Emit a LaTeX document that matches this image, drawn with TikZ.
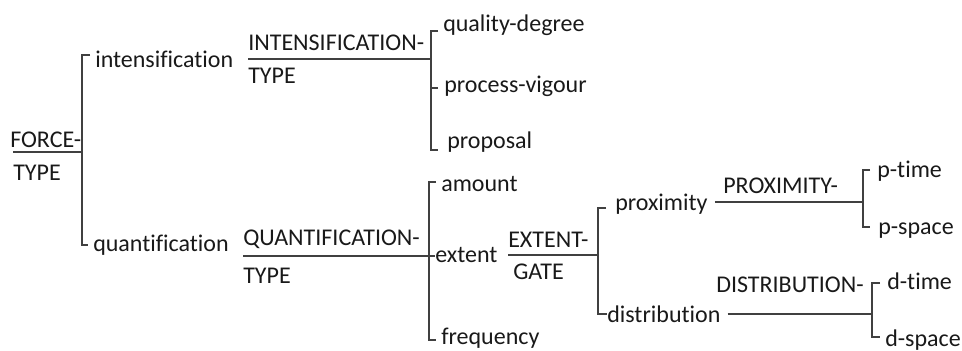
\documentclass[tikz,border=0pt]{standalone}
\usepackage{fontspec}
\setmainfont{Carlito}[Ligatures={NoCommon}]
\usetikzlibrary{positioning, calc}

\begin{document}
\begin{tikzpicture}[x=0.75pt, y=-0.75pt,
        lbl/.style = {inner sep=0pt, anchor=base west, text=black!90,
                     font=\fontsize{18}{20}\selectfont},
       link/.style = {draw=black!75, line width=1.4pt}
                        ]
\useasboundingbox (0,0) rectangle (962,350);
\node (force) [lbl] at (10,147) {FORCE-};
\node (forcetype) [lbl] at (13,180) {TYPE};
\node (intens) [lbl] at (95,67) {intensification};
\node (quant) [lbl] at (93,251) {quantification};
\node (inttype) [lbl] at (248,50) {INTENSIFICATION-};
\node (inttype2) [lbl] at (248,83) {TYPE};
\node (qual) [lbl] at (443,31) {quality-degree};
\node (vig) [lbl] at (444,92) {process-vigour};
\node (prop) [lbl] at (447,148) {proposal};
\node (quanttype) [lbl] at (243,245) {QUANTIFICATION-};
\node (quanttype2) [lbl] at (243,283) {TYPE};
\node (amount) [lbl] at (441,191) {amount};
\node (extent) [lbl] at (435,262) {extent};
\node (freq) [lbl] at (441,344) {frequency};
\node (exttype) [lbl] at (508,247) {EXTENT-};
\node (gate) [lbl] at (513,279) {GATE};
\node (prox) [lbl] at (615,210) {proximity};
\node (distr) [lbl] at (607,322) {distribution};
\node (proxtype) [lbl] at (723,193) {PROXIMITY-};
\node (ptime) [lbl] at (877,177) {p-time};
\node (pspace) [lbl] at (878,234) {p-space};
\node (distrtype) [lbl] at (716,292) {DISTRIBUTION-};
\node (dtime) [lbl] at (887,289) {d-time};
\node (dspace) [lbl] at (885,346) {d-space};
% junctions of the brackets
\coordinate (j1) at (82,152);
\coordinate (j2) at (431,59);
\coordinate (j3) at (429,256);
\coordinate (j4) at (598,255);
\coordinate (j5) at (863,202);
\coordinate (j6) at (872,314);
\draw[link] ($(force.base west)+(3,5)$) -- (j1);
\draw[link] ($(intens.base west)+(-5,-12)$) -| (j1) |- ($(quant.base west)+(-5,-6)$);
\draw[link] ($(inttype.base west)+(0,9)$) -- (j2);
\draw[link] ($(qual.base west)+(-5,0)$) -| (j2) |- ($(prop.base west)+(-9,2)$);
\draw[link] ($(vig.base west)+(-13,-4)$) -- ($(vig.base west)+(-6,-4)$);
\draw[link] ($(quanttype.base west)+(0,11)$) -- (j3);
\draw[link] ($(amount.base west)+(-5,-9)$) -| (j3) |- ($(freq.base west)+(-5,-4)$);
\draw[link] (j3) -- ($(extent.base west)+(0,-6)$);
\draw[link] ($(exttype.base west)+(0,8)$) -- (j4);
\draw[link] ($(prox.base west)+(-9,-2)$) -| (j4) |- ($(distr.base west)+(0,-8)$);
\draw[link] ($(prox.base east)+(7,-8)$) -- (j5);
\draw[link] ($(ptime.base west)+(-7,-7)$) -| (j5) |- ($(pspace.base west)+(-8,-7)$);
\draw[link] ($(distr.base east)+(7,-8)$) -- (j6);
\draw[link] ($(dtime.base west)+(-7,-6)$) -| (j6) |- ($(dspace.base west)+(-5,-9)$);
\end{tikzpicture}
\end{document}
